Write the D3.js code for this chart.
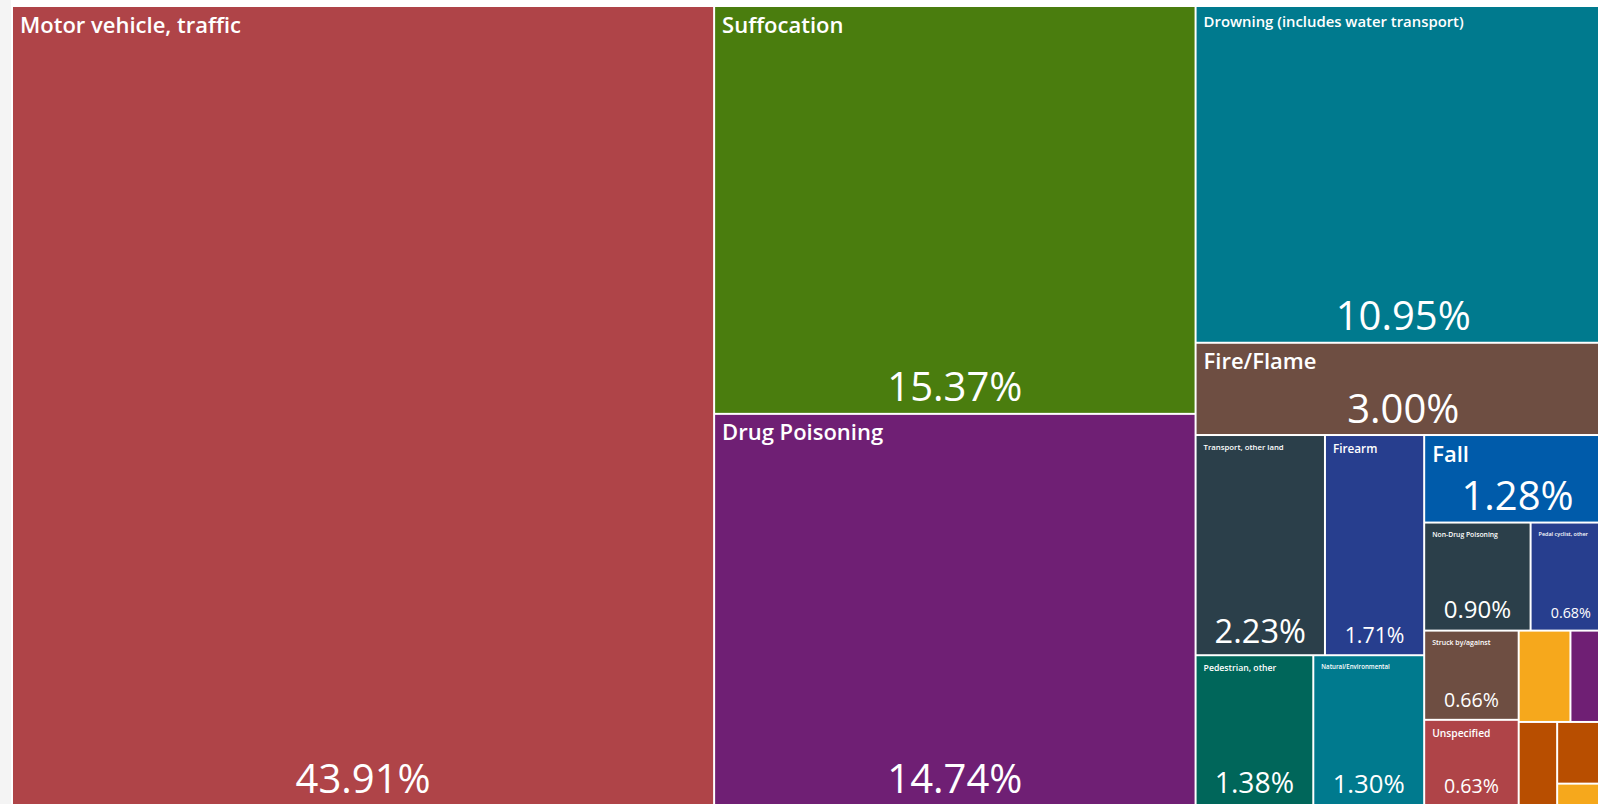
<!DOCTYPE html>
<html>
<head>
<meta charset="utf-8">
<script src="https://cdn.jsdelivr.net/npm/d3@7"></script>
<style>
  body { margin: 0; background: #fff; }
  svg { display: block; font-family: "Open Sans", sans-serif; }
</style>
</head>
<body>
<svg class="chart"></svg>
<script>
// main causes, share of deaths in %
let causes = ["Motor vehicle, traffic", "Suffocation", "Drug Poisoning", "Drowning (includes water transport)", "Fire/Flame"];
let shares = [43.91, 15.37, 14.74, 10.95, 3.00];
let causeColors = ["#AF4448", "#4A7D0E", "#6F1F74", "#007A8E", "#6E4E42"];

// the smaller causes, laid out together in the lower right corner
let otherCauses = ["Transport, other land", "Firearm", "Pedestrian, other", "Natural/Environmental", "Fall",
                   "Non-Drug Poisoning", "Pedal cyclist, other", "Struck by/against", "Unspecified",
                   "Other spec., classifiable", "Other spec., NEC", "Machinery", "Cut/pierce", "Other transport"];
let otherShares = [2.23, 1.71, 1.38, 1.30, 1.28, 0.90, 0.68, 0.66, 0.63, 0.37, 0.29, 0.25, 0.26, 0.09];
let otherColors = ["#2B3F4A", "#273E8E", "#00665A", "#007A8E", "#005BAA", "#2B3F4A", "#273E8E",
                   "#6E4E42", "#AF4448", "#F6A81C", "#6F1F74", "#B84E00", "#B84E00", "#F6A81C"];

let width = 1598, height = 804;

let svg = d3.select('.chart')
            .attr('width', width)
            .attr('height', height);

svg.append('rect')
   .attr('x', 0)
   .attr('y', 0)
   .attr('width', 11)
   .attr('height', height)
   .attr('fill', '#f4f4f4');

let tree = {
    name: 'All',
    children: causes.map((c, i) => ({name: c, value: shares[i], color: causeColors[i]}))
        .concat([{
            name: 'Other',
            children: otherCauses.map((c, i) => ({name: c, value: otherShares[i], color: otherColors[i]}))
        }])
};

let root = d3.hierarchy(tree).sum(d => d.value || 0);

d3.treemap()
  .tile(d3.treemapBinary)
  .size([1597, 797])
  .paddingInner(2)(root);

let chart = svg.append('g')
               .attr('transform', 'translate(13,7)');

let cell = chart.selectAll('g.cell')
                .data(root.leaves())
                .enter()
                .append('g')
                .attr('class', 'cell');

cell.append('rect')
    .attr('x', d => d.x0)
    .attr('y', d => d.y0)
    .attr('width', d => d.x1 - d.x0)
    .attr('height', d => d.y1 - d.y0)
    .attr('fill', d => d.data.color);

let labelled = cell.filter(d => d.x1 - d.x0 >= 60);

let pctSize = d => Math.min(40, 0.374 * (d.x1 - d.x0) - 15);

labelled.append('text')
        .attr('x', d => (d.x0 + d.x1) / 2)
        .attr('y', d => d.y1 - 11.5)
        .attr('text-anchor', 'middle')
        .attr('fill', '#fff')
        .style('font-size', d => pctSize(d) + 'px')
        .text(d => d.data.value.toFixed(2) + '%');

labelled.append('text')
        .attr('x', d => d.x0 + 7)
        .attr('fill', '#fff')
        .style('font-weight', 600)
        .text(d => d.data.name)
        .each(function(d) {
            let w = d.x1 - d.x0;
            let size = Math.min(22, 0.55 * pctSize(d));
            d3.select(this).style('font-size', size + 'px');
            let len = this.getComputedTextLength();
            if (len > 0.63 * w) {
                size = size * 0.63 * w / len;
                d3.select(this).style('font-size', size + 'px');
            }
            d3.select(this).attr('y', d.y0 + 8 + 0.8 * size);
        });
</script>
</body>
</html>
